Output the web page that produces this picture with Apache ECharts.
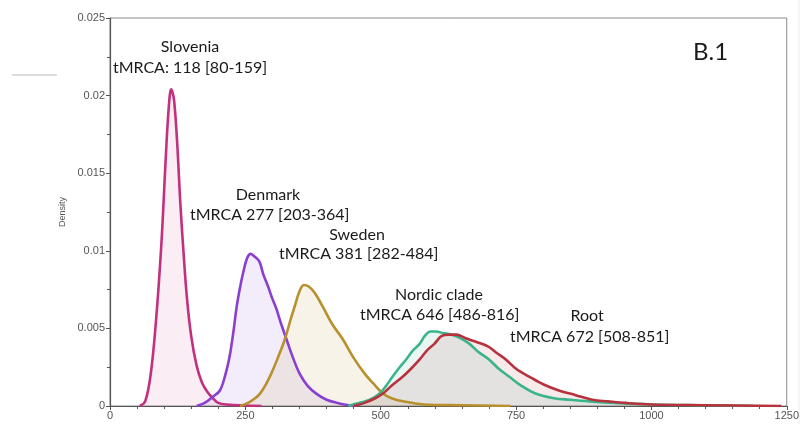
<!DOCTYPE html>
<html><head><meta charset="utf-8">
<script src="https://cdn.jsdelivr.net/npm/echarts@6/dist/echarts.min.js"></script>
<style>html,body{margin:0;padding:0;background:#fff;}#c{width:802px;height:424px;}</style>
</head><body><div id="c"></div>
<script>
// time (x) and density (y) pairs
const sloveniaX = [55,65,75,85,95,103,108,113,118,124,130,136,142,150,160,170,180,190,200,215,280];
const sloveniaY = [0,0.0003,0.0020,0.0055,0.0105,0.0160,0.0190,0.0204,0.0198,0.0170,0.0130,0.0098,0.0070,0.0045,0.0026,0.0015,0.0009,0.0005,0.0002,0.0001,0];
const denmarkX = [160,175,190,203,213,221,228,234,240,246,253,260,268,276,283,292,300,307,316,326,337,350,365,381,400,420,450];
const denmarkY = [0,0.0002,0.0006,0.0010,0.0020,0.0032,0.0048,0.0064,0.0076,0.0086,0.0095,0.0098,0.0096,0.0093,0.0085,0.0077,0.0069,0.0063,0.0053,0.0043,0.0032,0.0021,0.0013,0.0008,0.0004,0.0002,0];
const swedenX = [240,255,268,277,288,298,310,323,333,341,350,358,367,378,393,410,430,450,470,485,504,520,541,580,650,740];
const swedenY = [0,0.0002,0.0005,0.0008,0.0014,0.0021,0.0031,0.0043,0.0055,0.0064,0.0074,0.0078,0.0077,0.0073,0.0064,0.0053,0.0043,0.0031,0.0021,0.0015,0.0008,0.0005,0.0003,0.0001,0.00005,0];
const nordicX = [440,460,480,498,510,522,535,547,560,572,581,592,602,615,630,645,664,680,700,718,737,760,786,820,850,885,930,1000,1100,1190];
const nordicY = [0,0.0002,0.0004,0.0008,0.0013,0.0019,0.0025,0.0030,0.0036,0.0040,0.0045,0.0048,0.0048,0.0047,0.0046,0.0044,0.0040,0.0035,0.0030,0.0024,0.0019,0.0013,0.0008,0.0005,0.0004,0.0003,0.0002,0.0001,0.00005,0];
const rootX = [450,470,490,504,520,541,556,572,586,599,612,625,640,655,670,688,700,715,731,750,774,800,829,860,891,920,952,1000,1100,1240];
const rootY = [0,0.0002,0.0005,0.0008,0.0013,0.0019,0.0024,0.0030,0.0036,0.0040,0.0045,0.0046,0.0046,0.0044,0.0042,0.0040,0.0038,0.0034,0.0030,0.0024,0.0019,0.0014,0.0010,0.0007,0.0004,0.0003,0.0002,0.0001,0.00005,0];
const xTicks = [0,250,500,750,1000,1250];
const yTicks = [0,0.005,0.01,0.015,0.02,0.025];

const pair = (xs, ys) => xs.map((x, i) => [x, ys[i]]);
function ser(name, xs, ys, line, fill) {
  return {
    name, type: 'line', data: pair(xs, ys), smooth: 0.35, showSymbol: false, z: 3,
    lineStyle: { color: line, width: 2.6 },
    areaStyle: { color: fill, origin: 'start' }
  };
}
const chart = echarts.init(document.getElementById('c'), null, { renderer: 'canvas' });
const txtFont = 'Lato, "Open Sans", sans-serif';
function label(text, x, y, align, size) {
  return { type: 'text', x, y, z: 10,
    style: { text, fill: '#1a1a1a', font: (size || 16) + 'px ' + txtFont, textAlign: align, textVerticalAlign: 'middle' } };
}
chart.setOption({
  animation: false,
  grid: { left: 110, right: 13, top: 18, bottom: 18, show: true, borderColor: '#8a8a8a', borderWidth: 1, backgroundColor: '#fff' },
  xAxis: {
    type: 'value', min: xTicks[0], max: xTicks[xTicks.length - 1], interval: 250,
    axisLine: { show: true, lineStyle: { color: '#555', width: 1.2 } },
    axisTick: { show: true, length: 4, lineStyle: { color: '#555' } },
    minorTick: { show: true, splitNumber: 5, length: 3, lineStyle: { color: '#555' } },
    splitLine: { show: false },
    axisLabel: { color: '#555', fontSize: 11, fontFamily: 'Liberation Sans, Arial', margin: 4, formatter: v => String(v) }
  },
  yAxis: {
    type: 'value', min: yTicks[0], max: yTicks[yTicks.length - 1], interval: 0.005,
    name: 'Density', nameLocation: 'middle', nameGap: 36,
    nameTextStyle: { color: '#555', fontSize: 9, fontFamily: 'Liberation Sans, Arial' },
    axisLine: { show: true, lineStyle: { color: '#555', width: 1.2 } },
    axisTick: { show: true, length: 4, lineStyle: { color: '#555' } },
    minorTick: { show: true, splitNumber: 2, length: 3, lineStyle: { color: '#555' } },
    splitLine: { show: false },
    axisLabel: { color: '#555', fontSize: 11, fontFamily: 'Liberation Sans, Arial', margin: 5, formatter: v => String(v) }
  },
  series: [
    ser('Slovenia', sloveniaX, sloveniaY, '#c2307e', 'rgba(205,90,150,0.15)'),
    ser('Denmark', denmarkX, denmarkY, '#8a3fd0', 'rgba(150,100,225,0.17)'),
    ser('Sweden', swedenX, swedenY, '#b8902e', 'rgba(190,160,80,0.18)'),
    ser('Nordic clade', nordicX, nordicY, '#3ab58a', 'rgba(60,180,150,0.16)'),
    ser('Root', rootX, rootY, '#b8323e', 'rgba(190,60,70,0.15)')
  ],
  graphic: [
    { type: 'line', shape: { x1: 12, y1: 75, x2: 57, y2: 75 }, style: { stroke: '#b8b8b8', lineWidth: 1 } },
    { type: 'line', shape: { x1: 799, y1: 0, x2: 799, y2: 424 }, style: { stroke: '#eeeeee', lineWidth: 1 } },
    label('Slovenia', 190, 47, 'center'),
    label('tMRCA: 118 [80-159]', 190, 68, 'center'),
    label('Denmark', 268, 195, 'center'),
    label('tMRCA 277 [203-364]', 190, 215, 'left'),
    label('Sweden', 357, 235, 'center'),
    label('tMRCA 381 [282-484]', 279, 254, 'left'),
    label('Nordic clade', 439, 295, 'center'),
    label('tMRCA 646 [486-816]', 360, 315, 'left'),
    label('Root', 587, 316, 'center'),
    label('tMRCA 672 [508-851]', 510, 337, 'left'),
    label('B.1', 693, 52, 'left', 24)
  ]
});
</script></body></html>
